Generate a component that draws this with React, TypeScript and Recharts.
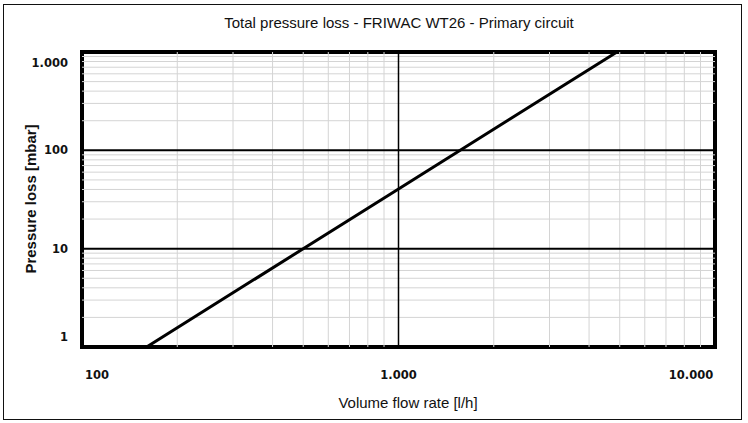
import {
  LineChart,
  Line,
  XAxis,
  YAxis,
  ReferenceLine,
  ReferenceArea,
} from "recharts";

// Pressure loss curve (log-log)
const flowRates = [160, 1000, 4900];
const pressureLoss = [1, 40.5, 1000];

const xTicks = [100, 1000, 10000];
const xTickLabels = ["100", "1.000", "10.000"];
const yTicks = [1, 10, 100, 1000];
const yTickLabels = ["1", "10", "100", "1.000"];

const xMinor = [200, 300, 400, 500, 600, 700, 800, 900, 2000, 3000, 4000, 5000, 6000, 7000, 8000, 9000];
const yMinor = [2, 3, 4, 5, 6, 7, 8, 9, 20, 30, 40, 50, 60, 70, 80, 90, 200, 300, 400, 500, 600, 700, 800, 900];
const xMajor = [1000];
const yMajor = [10, 100];

const chartData = flowRates.map((flow, i) => ({ flow, loss: pressureLoss[i] }));

const tickFont = "'DejaVu Sans', Verdana, sans-serif";
const titleFont = "'Liberation Sans', Arial, Helvetica, sans-serif";

function XTick({ x, y, payload }: any) {
  const i = xTicks.indexOf(payload.value);
  const shift = i === 0 ? 15 : i === xTicks.length - 1 ? -24 : 0;
  return (
    <text
      x={x + shift}
      y={y + 20}
      textAnchor="middle"
      dominantBaseline="central"
      fontFamily={tickFont}
      fontSize={11.5}
      fontWeight={600}
      fill="#111"
    >
      {xTickLabels[i]}
    </text>
  );
}

function YTick({ x, y, payload }: any) {
  const i = yTicks.indexOf(payload.value);
  const shift = i === 0 ? -10.5 : i === yTicks.length - 1 ? 11 : 0;
  return (
    <text
      x={x - 6}
      y={y + shift}
      textAnchor="end"
      dominantBaseline="central"
      fontFamily={tickFont}
      fontSize={11.5}
      fontWeight={600}
      fill="#111"
    >
      {yTickLabels[i]}
    </text>
  );
}

export default function App() {
  return (
    <div
      style={{
        position: "absolute",
        left: 0,
        top: 0,
        width: 748,
        height: 423,
        background: "#fff",
      }}
    >
      <div
        style={{
          position: "absolute",
          left: 3,
          top: 4,
          width: 737,
          height: 414,
          border: "1px solid #111",
        }}
      />
      <div
        style={{
          position: "absolute",
          left: 0,
          width: 798,
          top: 14,
          textAlign: "center",
          fontFamily: titleFont,
          fontSize: 15,
          color: "#111",
        }}
      >
        Total pressure loss - FRIWAC WT26 - Primary circuit
      </div>
      <div
        style={{
          position: "absolute",
          left: 0,
          width: 816,
          top: 394,
          textAlign: "center",
          fontFamily: titleFont,
          fontSize: 15,
          color: "#111",
        }}
      >
        Volume flow rate [l/h]
      </div>
      <div
        style={{
          position: "absolute",
          left: 30,
          top: 199,
          transform: "translate(-50%, -50%) rotate(-90deg)",
          whiteSpace: "nowrap",
          fontFamily: titleFont,
          fontSize: 15,
          fontWeight: 600,
          color: "#111",
        }}
      >
        Pressure loss [mbar]
      </div>
      <LineChart
        width={748}
        height={423}
        data={chartData}
        margin={{ top: 52, right: 33, left: 0, bottom: 0 }}
        style={{ position: "absolute", left: 0, top: 0 }}
      >
        <XAxis
          dataKey="flow"
          type="number"
          scale="log"
          domain={[100, 10000]}
          ticks={xTicks}
          tick={<XTick />}
          tickLine={false}
          axisLine={false}
          height={76}
          allowDataOverflow
        />
        <YAxis
          type="number"
          scale="log"
          domain={[1, 1000]}
          ticks={yTicks}
          tick={<YTick />}
          tickLine={false}
          axisLine={false}
          width={82}
          allowDataOverflow
        />
        {xMinor.map((v) => (
          <ReferenceLine key={`xm${v}`} x={v} stroke="#d4d4d4" strokeWidth={1} />
        ))}
        {yMinor.map((v) => (
          <ReferenceLine key={`ym${v}`} y={v} stroke="#d4d4d4" strokeWidth={1} />
        ))}
        {xMajor.map((v) => (
          <ReferenceLine key={`xM${v}`} x={v} stroke="#000" strokeWidth={1.5} />
        ))}
        {yMajor.map((v) => (
          <ReferenceLine key={`yM${v}`} y={v} stroke="#000" strokeWidth={2} />
        ))}
        <Line
          type="linear"
          dataKey="loss"
          stroke="#000"
          strokeWidth={3}
          dot={false}
          isAnimationActive={false}
        />
        <ReferenceArea
          x1={100}
          x2={10000}
          y1={1}
          y2={1000}
          fill="none"
          fillOpacity={0}
          stroke="#000"
          strokeWidth={4}
        />
      </LineChart>
    </div>
  );
}
